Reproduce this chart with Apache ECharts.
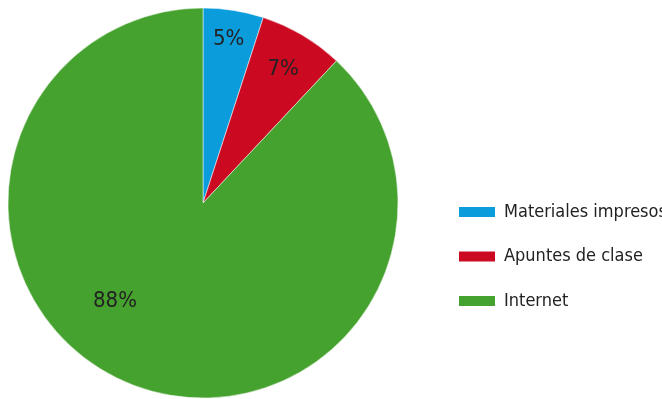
<!DOCTYPE html>
<html>
<head>
<meta charset="utf-8">
<script src="https://cdn.jsdelivr.net/npm/echarts@6/dist/echarts.min.js"></script>
<style>
  html, body { margin: 0; padding: 0; background: #ffffff; }
  #chart { width: 662px; height: 399px; }
</style>
</head>
<body>
<div id="chart"></div>
<script>
// Fuentes de información consultadas (porcentajes)
const categories = ['Materiales impresos', 'Apuntes de clase', 'Internet'];
const values = [5, 7, 88];
const colors = ['#0b9cdc', '#cb0a22', '#46a22e'];

// Desplazamiento de cada etiqueta respecto a su posición interior por defecto
const labelNudge = [[10, -64], [29, -47], [-51, 5]];

const FONT = '"DejaVu Sans Condensed", "Roboto", sans-serif';

const chart = echarts.init(document.getElementById('chart'), null, { renderer: 'canvas' });

chart.setOption({
  animation: false,
  backgroundColor: '#ffffff',
  color: colors,
  legend: {
    orient: 'vertical',
    left: 457,
    top: 203,
    padding: 0,
    itemWidth: 38,
    itemHeight: 12,
    itemGap: 26.5,
    icon: 'rect',
    textStyle: { fontFamily: FONT, fontSize: 18, color: '#222222', padding: [0, 0, 0, 3] },
    data: categories
  },
  series: [{
    type: 'pie',
    center: [203, 203],
    radius: [0, 195],
    startAngle: 90,
    clockwise: true,
    avoidLabelOverlap: false,
    itemStyle: { borderColor: '#ffffff', borderWidth: 0.5 },
    label: {
      show: true,
      position: 'inside',
      formatter: '{c}%',
      fontFamily: FONT,
      fontSize: 22,
      color: '#222222'
    },
    labelLine: { show: false },
    labelLayout: function (params) {
      const n = labelNudge[params.dataIndex] || [0, 0];
      return { dx: n[0], dy: n[1] };
    },
    emphasis: { disabled: true },
    data: categories.map((name, i) => ({ name: name, value: values[i] }))
  }]
});
</script>
</body>
</html>
